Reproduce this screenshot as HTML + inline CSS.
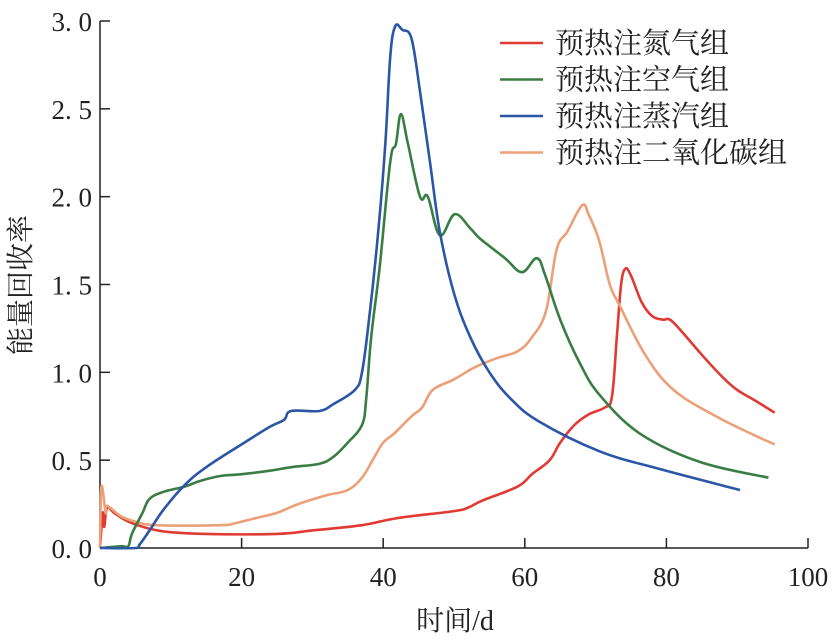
<!DOCTYPE html>
<html><head><meta charset="utf-8"><style>
body{margin:0;background:#fff}
svg text{font-family:"Liberation Serif","Noto Serif CJK SC",serif;fill:#222}
</style></head><body>
<svg id="chart" width="838" height="638" viewBox="0 0 838 638" xmlns="http://www.w3.org/2000/svg">
<g id="axes"></g>
<g id="series"></g>
<g id="legend"></g>
</svg>
<script>
const xTicks=[0,20,40,60,80,100];
const yTicks=[0,0.5,1.0,1.5,2.0,2.5,3.0];
const yTickLabels=["0. 0","0. 5","1. 0","1. 5","2. 0","2. 5","3. 0"];
const seriesNames=["预热注氮气组","预热注空气组","预热注蒸汽组","预热注二氧化碳组"];
const seriesColors=["#e03a34","#3a7d44","#2b56a5","#eba077"];
const n2X=[0,0.4,0.6,1,2,4,7,10,15,25,30,37,42,50,52,54,59,61,63.5,65,67,69,71.3,72.3,73,73.6,74.2,75,76.5,78,79.5,80.5,82,85,88,90,92.5,95.3];
const n2Y=[0,0.2,0.12,0.23,0.2,0.15,0.11,0.09,0.08,0.08,0.1,0.13,0.17,0.21,0.23,0.27,0.35,0.42,0.5,0.6,0.7,0.76,0.8,0.86,1.2,1.5,1.59,1.55,1.4,1.32,1.3,1.3,1.24,1.1,0.97,0.9,0.84,0.77];
const airX=[0,3,4,4.5,6,7,9,12,14,17,20,24,27,31,33,35,37,37.6,38.3,39.5,41,41.8,42.5,43.5,45.2,46.3,48,50.1,52.3,53.7,57.2,59.6,61.7,62.9,65,67.8,70.6,76.3,84.7,94.4];
const airY=[0,0.01,0.01,0.08,0.2,0.28,0.32,0.35,0.38,0.41,0.42,0.44,0.46,0.48,0.52,0.6,0.7,0.85,1.2,1.6,2.2,2.3,2.47,2.3,2.0,2.0,1.78,1.9,1.82,1.76,1.65,1.57,1.65,1.55,1.3,1.05,0.87,0.65,0.49,0.4];
const steamX=[0,5,5.6,7,9,12,15,20,24,26,27,31,33,36,37,38,39.3,40.3,41,41.7,42.7,44,45.2,46.6,48,50,52.3,55,58,62,70.6,79,90.4];
const steamY=[0,0,0.02,0.1,0.22,0.36,0.46,0.59,0.69,0.73,0.78,0.78,0.82,0.9,1.0,1.3,1.8,2.3,2.8,2.97,2.95,2.9,2.6,2.2,1.8,1.45,1.2,1.0,0.85,0.72,0.55,0.45,0.33];
const co2X=[0,0.2,0.8,1,3,5,8,17,19,22,25,28,32,35,37,38.5,40,41.5,44,45.5,47,50,53,56,59,61,63,64.5,66,68.1,69,70.5,72,73.4,77,81,87,92,95.3];
const co2Y=[0,0.35,0.2,0.24,0.18,0.15,0.13,0.13,0.14,0.17,0.2,0.25,0.3,0.33,0.4,0.5,0.6,0.65,0.75,0.8,0.9,0.96,1.03,1.08,1.12,1.2,1.35,1.7,1.8,1.95,1.9,1.75,1.5,1.38,1.1,0.9,0.75,0.65,0.59];
const allX=[n2X,airX,steamX,co2X], allY=[n2Y,airY,steamY,co2Y];
const NS="http://www.w3.org/2000/svg";
const X0=100,X1=808,Y0=548,Y1=21;
const sx=v=>X0+(v-0)/(100-0)*(X1-X0);
const sy=v=>Y0-(v-0)/(3-0)*(Y0-Y1);
function mk(tag,attrs,parent){const e=document.createElementNS(NS,tag);for(const k in attrs)e.setAttribute(k,attrs[k]);parent.appendChild(e);return e;}
function smooth(pts){
  let d='M'+pts[0][0].toFixed(1)+','+pts[0][1].toFixed(1);
  for(let i=0;i<pts.length-1;i++){
    const p0=pts[i-1]||pts[i],p1=pts[i],p2=pts[i+1],p3=pts[i+2]||p2;
    const t=0.18;
    const c1=[p1[0]+(p2[0]-p0[0])*t,p1[1]+(p2[1]-p0[1])*t];
    const c2=[p2[0]-(p3[0]-p1[0])*t,p2[1]-(p3[1]-p1[1])*t];
    d+='C'+c1[0].toFixed(1)+','+c1[1].toFixed(1)+' '+c2[0].toFixed(1)+','+c2[1].toFixed(1)+' '+p2[0].toFixed(1)+','+p2[1].toFixed(1);
  }
  return d;
}
const axes=document.getElementById('axes');
let a=mk('line',{x1:X0,y1:Y0,x2:X1,y2:Y0,stroke:'#222','stroke-width':1.5},axes);

a=mk('line',{x1:X0,y1:Y0,x2:X0,y2:Y1,stroke:'#222','stroke-width':1.5},axes);

xTicks.forEach(t=>{
  const l=mk('line',{x1:sx(t),y1:Y0,x2:sx(t),y2:Y0-10,stroke:'#222','stroke-width':1.5},axes);
  
  const tx=mk('text',{x:sx(t),y:Y0+38,'text-anchor':'middle','font-size':27},axes);
  tx.textContent=t;
  
});
yTicks.forEach((t,i)=>{
  const l=mk('line',{x1:X0,y1:sy(t),x2:X0+10,y2:sy(t),stroke:'#222','stroke-width':1.5},axes);
  
  const tx=mk('text',{x:X0-8,y:sy(t)+10,'text-anchor':'end','font-size':27},axes);
  tx.textContent=yTickLabels[i];
  
});
let tt=mk('text',{x:455,y:630,'text-anchor':'middle','font-size':28},axes);
tt.textContent='时间/d';

tt=mk('text',{x:0,y:0,'text-anchor':'middle','font-size':28,transform:'translate(30,285) rotate(-90)'},axes);
tt.textContent='能量回收率';

const sg=document.getElementById('series');
const order=[0,3,1,2];
order.forEach(i=>{
  const pts=allX[i].map((x,j)=>[sx(x),sy(allY[i][j])]);
  const p=mk('path',{d:smooth(pts),fill:'none',stroke:seriesColors[i],'stroke-width':2.6,'stroke-linejoin':'round'},sg);
  
});
const lg=document.getElementById('legend');
seriesNames.forEach((n,i)=>{
  const y=43+i*36.5;
  const l=mk('line',{x1:500,y1:y,x2:543,y2:y,stroke:seriesColors[i],'stroke-width':2.6},lg);
  
  const t=mk('text',{x:555,y:y+10,'font-size':29},lg);
  t.textContent=n;
  
});
</script>
</body></html>
